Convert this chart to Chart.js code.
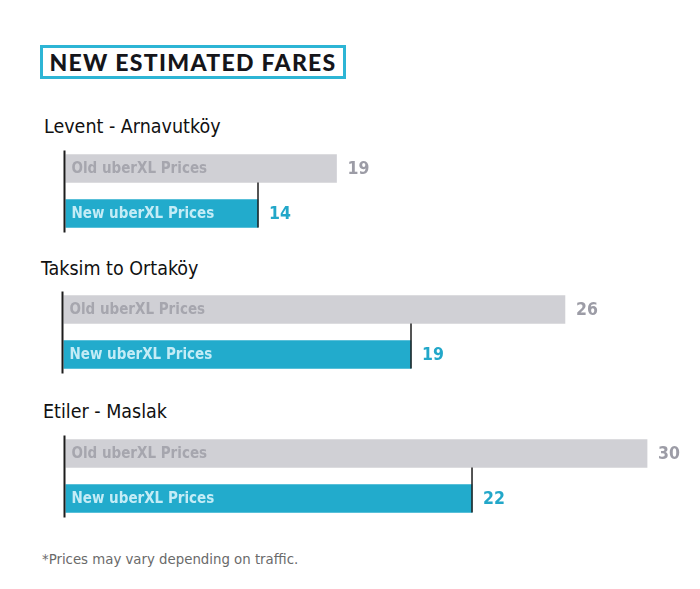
<!DOCTYPE html>
<html>
<head>
<meta charset="utf-8">
<script src="https://cdn.jsdelivr.net/npm/chart.js@4"></script>
<style>
  html, body { margin:0; padding:0; background:#fff; }
  body { width:700px; height:589px; position:relative; overflow:hidden; font-family:"DejaVu Sans Condensed","DejaVu Sans",sans-serif; }
  .title { position:absolute; left:40px; top:45px; width:300px; height:28px; border:3px solid #2db5d5; font-family:Lato,"Open Sans",sans-serif; font-weight:900; font-size:23px; line-height:28px; color:#15151a; text-align:center; letter-spacing:1.3px; }
  .heading { position:absolute; font-family:"DejaVu Sans Condensed","DejaVu Sans",sans-serif; font-size:19.5px; color:#111; white-space:nowrap; }
  .note { position:absolute; left:42px; top:550px; font-family:"DejaVu Sans Condensed","DejaVu Sans",sans-serif; font-size:14.8px; color:#6a6a6a; white-space:nowrap; }
  canvas { position:absolute; left:0; }
</style>
</head>
<body>
<div class="title" id="title"></div>
<div id="groups"></div>
<div class="note" id="note"></div>
<script>
// ---- data ----
const chartTitle = 'NEW ESTIMATED FARES';
const routes = ['Levent - Arnavutköy', 'Taksim to Ortaköy', 'Etiler - Maslak'];
const seriesNames = ['Old uberXL Prices', 'New uberXL Prices'];
const oldPrices = [19, 26, 30];
const newPrices = [14, 19, 22];
const footnote = '*Prices may vary depending on traffic.';

// ---- layout / style ----
const headingPos = [{left:44, top:115}, {left:41, top:257}, {left:43, top:400}];
const canvasTops = [146, 287, 431];
const barStarts = [65.5, 63.5, 65.5];
const axisMin = [1.74, 3.2, 3.42];
const axisMax = [42.15, 32.14, 32.42];
const barColors = ['#d0d0d5', '#22abcc'];
const insideText = ['#a6a6ae', '#c4ecf6'];
const valueText = ['#9c9ca6', '#22a7c9'];

document.getElementById('title').textContent = chartTitle;
document.getElementById('note').textContent = footnote;

const labelPlugin = {
  id: 'fareLabels',
  afterDatasetsDraw(chart) {
    const ctx = chart.ctx;
    const meta = chart.getDatasetMeta(0);
    const x0 = chart.chartArea.left;
    const data = chart.data.datasets[0].data;
    const bars = meta.data;
    ctx.save();
    bars.forEach((bar, i) => {
      ctx.textBaseline = 'middle';
      ctx.textAlign = 'left';
      ctx.fillStyle = insideText[i];
      ctx.font = 'bold 15px "DejaVu Sans Condensed", "DejaVu Sans", sans-serif';
      ctx.fillText(chart.data.labels[i], x0 + 6, bar.y + 1);
      ctx.fillStyle = valueText[i];
      ctx.font = 'bold 17.5px "DejaVu Sans Condensed", "DejaVu Sans", sans-serif';
      ctx.fillText(String(data[i]), bar.x + 11, bar.y + 1);
    });
    const half = bars[0].height / 2;
    ctx.strokeStyle = '#1c1c1c';
    ctx.lineWidth = 2;
    ctx.beginPath();
    ctx.moveTo(x0 - 1, bars[0].y - half - 4);
    ctx.lineTo(x0 - 1, bars[1].y + half + 5);
    ctx.stroke();
    ctx.lineWidth = 1.5;
    ctx.beginPath();
    ctx.moveTo(bars[1].x, bars[0].y + half);
    ctx.lineTo(bars[1].x, bars[1].y + half);
    ctx.stroke();
    ctx.restore();
  }
};

const groupsEl = document.getElementById('groups');
routes.forEach((route, g) => {
  const h = document.createElement('div');
  h.className = 'heading';
  h.style.left = headingPos[g].left + 'px';
  h.style.top = headingPos[g].top + 'px';
  h.textContent = route;
  groupsEl.appendChild(h);

  const c = document.createElement('canvas');
  c.width = 700; c.height = 90;
  c.style.top = canvasTops[g] + 'px';
  c.style.width = '700px'; c.style.height = '90px';
  groupsEl.appendChild(c);

  new Chart(c.getContext('2d'), {
    type: 'bar',
    data: {
      labels: seriesNames,
      datasets: [{
        data: [oldPrices[g], newPrices[g]],
        backgroundColor: barColors,
        borderWidth: 0,
        barThickness: 28
      }]
    },
    options: {
      indexAxis: 'y',
      responsive: false,
      animation: false,
      layout: { padding: { left: barStarts[g], right: 0, top: 0, bottom: 0 } },
      plugins: { legend: { display: false }, tooltip: { enabled: false } },
      scales: {
        x: { type: 'linear', min: axisMin[g], max: axisMax[g], display: false },
        y: { type: 'category', display: false }
      }
    },
    plugins: [labelPlugin]
  });
});
</script>
</body>
</html>
